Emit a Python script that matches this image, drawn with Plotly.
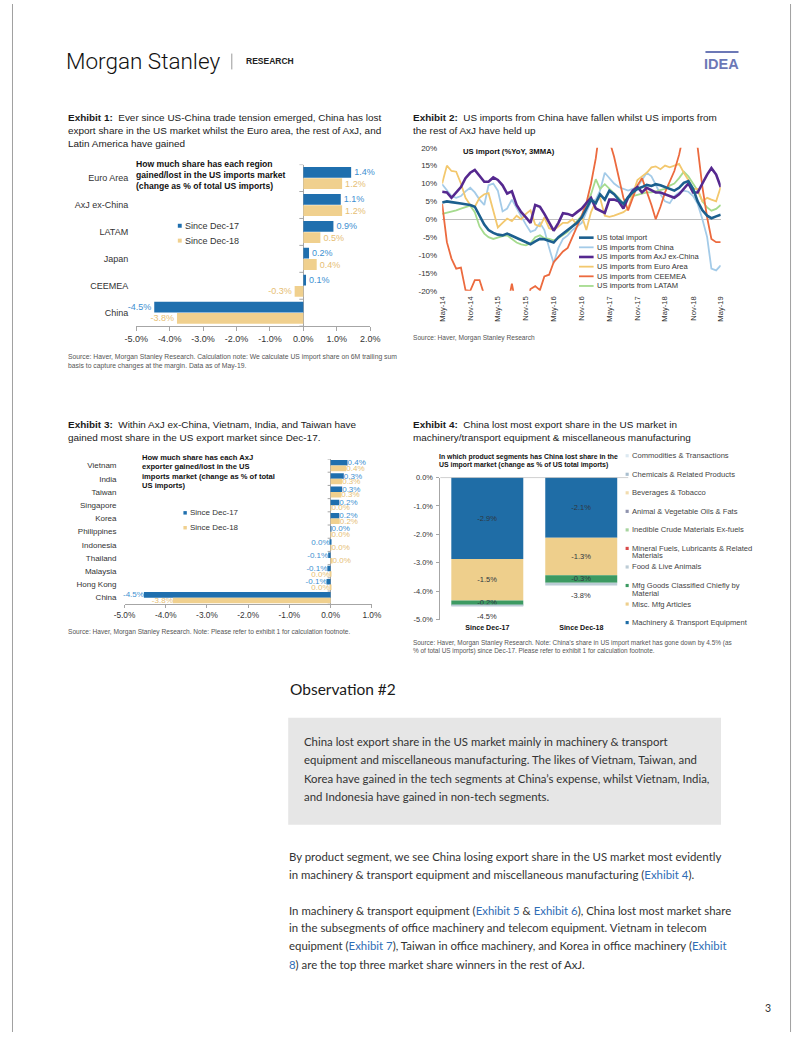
import plotly.graph_objects as go
import pandas as pd

W, H = 802, 1037
def X(p): return p / W
def Y(p): return 1 - p / H

ARIAL = "Liberation Sans, Arial, Helvetica, sans-serif"
BODY = "Lato, 'Open Sans', sans-serif"
TXT = "#333333"
AXC = "#A6A6A6"
BLUE = "#1F6FAE"
BLUE_T = "#3D8FD1"
TAN = "#F0D08E"
TAN_T = "#E6BE74"

# ---------------- data ----------------
ex1_regions = ["Euro Area", "AxJ ex-China", "LATAM", "Japan", "CEEMEA", "China"]
ex1_dec17 = [1.43, 1.12, 0.90, 0.17, 0.08, -4.46]
ex1_dec18 = [1.16, 1.16, 0.51, 0.40, -0.26, -3.78]
ex1_ticks = [-5, -4, -3, -2, -1, 0, 1, 2]
ex1_ticktext = ["-5.0%", "-4.0%", "-3.0%", "-2.0%", "-1.0%", "0.0%", "1.0%", "2.0%"]

ex2_total = [4.7, 5.0, 4.8, 4.5, 4.4, 4.2, 4.0, 3.5, 1.0, -1.5, -3.0, -3.8, -4.3, -4.5, -4.0, -4.6,
             -5.3, -6.0, -6.6, -7.0, -6.2, -5.5, -5.6, -6.0, -6.5, -5.0, -4.0, -3.2, -2.2, -1.0, 0.5,
             3.0, 5.5, 4.5, 7.0, 5.5, 8.0, 7.0, 5.5, 4.3, 6.2, 7.5, 8.5, 9.0, 9.6, 9.3, 9.8, 9.5, 9.0,
             8.5, 8.0, 8.8, 10.2, 10.7, 8.5, 5.0, 2.5, 1.0, 0.3, 0.8, 1.3]
ex2_china = [9.8, 8.0, 6.5, 6.0, 6.5, 7.8, 8.8, 7.5, 5.5, 4.0, 9.5, 10.0, 8.0, 2.2, 3.0, 5.5, 3.0,
             1.0, -1.5, -3.5, -3.0, -1.0, -3.0, -8.0, -12.3, -8.0, -5.5, -4.5, -3.0, -2.0, -1.0, 2.0,
             5.0, 5.5, 8.0, 13.0, 11.5, 10.0, 9.0, 8.5, 8.0, 8.5, 9.0, 11.0, 13.0, 12.0, 9.5, 7.0,
             5.0, 4.5, 6.5, 7.5, 8.0, 7.7, 6.5, 4.3, 0.0, -5.0, -13.8, -14.3, -12.9]
ex2_axj = [7.7, 7.5, 6.0, 7.5, 9.0, 11.5, 13.0, 13.8, 12.0, 10.5, 10.5, 11.7, 11.0, 9.5, 7.2, 7.8,
           4.0, 2.0, 0.5, -1.0, 4.0, 3.5, 1.5, -1.0, -3.2, -1.0, 1.7, 1.5, 1.0, 2.0, 3.0, 4.5, 6.0,
           3.0, 2.5, 1.8, 5.5, 5.5, 5.0, 3.0, 6.0, 8.0, 9.0, 7.5, 8.8, 8.0, 7.5, 7.5, 7.0, 6.3, 6.0,
           7.0, 8.5, 10.0, 7.5, 7.5, 10.0, 12.5, 14.3, 12.5, 9.0]
ex2_euro = [10.0, 15.0, 13.5, 13.3, 10.0, 6.0, 4.0, 3.5, 6.0, 7.0, 7.3, 2.0, -2.3, -1.0, 0.2, -0.5,
            1.0, 0.0, 1.5, 2.5, -1.5, -2.0, 0.5, -2.5, -3.0, -2.0, -1.0, -1.0, 0.0, -1.5, 1.0, -3.0,
            2.0, 5.0, 6.0, 1.0, 0.7, 1.0, 1.5, 2.0, 3.0, 7.0, 11.0, 12.0, 13.0, 14.5, 14.8, 14.0,
            15.0, 14.5, 15.0, 15.5, 13.0, 11.0, 8.5, 8.5, 5.0, 6.0, 5.5, 5.0, 9.0]
ex2_ceemea = [4.3, -6.4, -11.0, -13.8, -13.5, -19.8, -20.0, -17.0, -17.0, -21.0, -25.0, -25.0,
              -25.0, -25.0, -25.0, -18.0, -25.0, -25.0, -25.0, -19.5, -18.7, -19.8, -16.0, -15.5,
              -12.0, -10.5, -9.0, -8.0, -5.0, -2.0, 1.0, 4.5, 10.0, 17.0, 26.0, 30.0, 22.0, 17.5,
              12.0, 6.0, 2.5, 6.0, 9.5, 11.5, 8.0, 4.0, 0.0, 3.5, 7.5, 10.5, 13.5, 18.0, 25.0, 30.0,
              27.0, 20.0, 9.0, 0.5, -5.5, -6.4, -6.4]
ex2_latam = [1.5, 1.8, 2.0, 2.5, 3.0, 3.5, 3.8, 2.0, -2.0, -4.0, -5.0, -5.5, -5.0, -4.7, -4.5, -5.5,
             -6.5, -7.0, -7.3, -6.7, -5.0, -4.5, -5.3, -5.5, -5.9, -5.3, -4.5, -3.5, -2.0, -0.5, 1.0,
             4.0, 7.0, 11.2, 8.5, 9.8, 8.5, 7.2, 6.0, 4.3, 6.0, 6.5, 6.8, 7.2, 7.5, 7.5, 7.8, 8.0,
             8.5, 9.4, 10.0, 11.5, 13.3, 12.0, 9.8, 8.0, 5.0, 3.3, 2.4, 2.9, 4.0]
ex2_names = ["US total import", "US imports from China", "US imports from AxJ ex-China",
             "US imports from Euro Area", "US imports from CEEMEA", "US imports from LATAM"]
ex2_months = pd.date_range("2014-05-01", "2019-05-01", freq="MS")
ex2_yticks = [20, 15, 10, 5, 0, -5, -10, -15, -20]
ex2_yticktext = ["20%", "15%", "10%", "5%", "0%", "-5%", "-10%", "-15%", "-20%"]

ex3_countries = ["Vietnam", "India", "Taiwan", "Singapore", "Korea", "Philippines", "Indonesia",
                 "Thailand", "Malaysia", "Hong Kong", "China"]
ex3_dec17 = [0.41, 0.32, 0.28, 0.21, 0.21, 0.01, -0.01, -0.06, -0.08, -0.10, -4.53]
ex3_dec18 = [0.38, 0.28, 0.26, 0.02, 0.22, 0.01, 0.01, 0.03, -0.01, -0.01, -3.83]
ex3_ticks = [-5, -4, -3, -2, -1, 0, 1]
ex3_ticktext = ["-5.0%", "-4.0%", "-3.0%", "-2.0%", "-1.0%", "0.0%", "1.0%"]

ex4_periods = ["Since Dec-17", "Since Dec-18"]
ex4_segments = ["Machinery & Transport Equipment", "Misc. Mfg Articles",
                "Mfg Goods Classified Chiefly by Material", "Food & Live Animals",
                "Mineral Fuels, Lubricants & Related Materials", "Inedible Crude Materials Ex-fuels",
                "Animal & Vegetable Oils & Fats", "Beverages & Tobacco",
                "Chemicals & Related Products", "Commodities & Transactions"]
ex4_dec17 = [-2.87, -1.46, -0.17, -0.04, 0.0, 0.0, 0.0, 0.0, 0.0, 0.0]
ex4_dec18 = [-2.12, -1.32, -0.26, -0.10, 0.0, 0.0, 0.0, 0.0, 0.0, 0.0]
ex4_labelled = ["Machinery & Transport Equipment", "Misc. Mfg Articles",
                "Mfg Goods Classified Chiefly by Material"]
ex4_yticks = [0, -1, -2, -3, -4, -5]
ex4_yticktext = ["0.0%", "-1.0%", "-2.0%", "-3.0%", "-4.0%", "-5.0%"]

# ---------------- styles ----------------
ex2_colors = ["#1C5F8E", "#A4CBE8", "#55288F", "#F3C86E", "#EC6A3E", "#A5DB8E"]
ex2_widths = [2.6, 1.8, 2.6, 1.8, 1.8, 1.8]
ex4_colors = {"Machinery & Transport Equipment": "#1F6DA6", "Misc. Mfg Articles": "#EECF8C",
              "Mfg Goods Classified Chiefly by Material": "#3C9A62", "Food & Live Animals": "#BCCCD6",
              "Mineral Fuels, Lubricants & Related Materials": "#D94A4A",
              "Inedible Crude Materials Ex-fuels": "#A8D5A0", "Animal & Vegetable Oils & Fats": "#8F93AE",
              "Beverages & Tobacco": "#F2DCAE", "Chemicals & Related Products": "#A9BFCF",
              "Commodities & Transactions": "#DCE9F1"}

def fmt(v):
    return f"{v:.1f}%".replace("-0.0%", "0.0%")

ann = []
shp = []

def label(x, y, s, size, color=TXT, family=ARIAL, xanchor="left", weight=None):
    f = dict(family=family, size=size, color=color)
    if weight:
        f["weight"] = weight
    ann.append(dict(x=X(x), y=Y(y), xref="paper", yref="paper", text=s, showarrow=False,
                    xanchor=xanchor, yanchor="middle", align="left", font=f, borderpad=0))

def hline_px(x0, x1, y, color, width=1):
    shp.append(dict(type="line", xref="paper", yref="paper", x0=X(x0), x1=X(x1), y0=Y(y), y1=Y(y),
                    line=dict(color=color, width=width)))

def square(cx, cy, size, color):
    shp.append(dict(type="rect", xref="paper", yref="paper", x0=X(cx - size / 2), x1=X(cx + size / 2),
                    y0=Y(cy + size / 2), y1=Y(cy - size / 2), fillcolor=color, line=dict(width=0)))

fig = go.Figure()

# ---------------- Exhibit 1 ----------------
for vals, col, tcol, off, nm in [(ex1_dec17, BLUE, BLUE_T, -0.41, "Since Dec-17"),
                                 (ex1_dec18, TAN, TAN_T, 0.01, "Since Dec-18")]:
    fig.add_trace(go.Bar(y=ex1_regions, x=vals, orientation="h", xaxis="x", yaxis="y",
                         width=0.40, offset=off, marker=dict(color=col, line=dict(width=0)),
                         text=[fmt(v) for v in vals], textposition="outside",
                         textfont=dict(family=ARIAL, size=9, color=tcol), constraintext="none",
                         cliponaxis=False, name=nm, hoverinfo="skip"))
for b in range(len(ex1_regions) + 1):
    shp.append(dict(type="line", xref="x", yref="y", xsizemode="pixel", xanchor=0, x0=-4, x1=0,
                    y0=b - 0.5, y1=b - 0.5, line=dict(color=AXC, width=1)))

# ---------------- Exhibit 2 ----------------
series = [ex2_total, ex2_china, ex2_axj, ex2_euro, ex2_ceemea, ex2_latam]
for i in [1, 5, 3, 4, 2, 0]:
    fig.add_trace(go.Scatter(x=ex2_months, y=series[i], mode="lines", xaxis="x2", yaxis="y2",
                             line=dict(color=ex2_colors[i], width=ex2_widths[i]), name=ex2_names[i],
                             hoverinfo="skip"))

# ---------------- Exhibit 3 ----------------
for vals, col, tcol, off, nm in [(ex3_dec17, BLUE, BLUE_T, -0.42, "Since Dec-17"),
                                 (ex3_dec18, TAN, TAN_T, 0.0, "Since Dec-18")]:
    fig.add_trace(go.Bar(y=ex3_countries, x=vals, orientation="h", xaxis="x3", yaxis="y3",
                         width=0.42, offset=off, marker=dict(color=col, line=dict(width=0)),
                         text=[fmt(v) for v in vals], textposition="outside",
                         textfont=dict(family=ARIAL, size=8, color=tcol), constraintext="none",
                         cliponaxis=False, name=nm, hoverinfo="skip"))
for b in range(len(ex3_countries) + 1):
    shp.append(dict(type="line", xref="x3", yref="y3", xsizemode="pixel", xanchor=0, x0=-3, x1=0,
                    y0=b - 0.5, y1=b - 0.5, line=dict(color=AXC, width=1)))

# ---------------- Exhibit 4 ----------------
base17, base18 = 0.0, 0.0
for seg, v17, v18 in zip(ex4_segments, ex4_dec17, ex4_dec18):
    txt = [fmt(v17), fmt(v18)] if seg in ex4_labelled else ["", ""]
    fig.add_trace(go.Bar(x=ex4_periods, y=[v17, v18], base=[base17, base18], xaxis="x4", yaxis="y4",
                         width=0.766, marker=dict(color=ex4_colors[seg], line=dict(width=0)),
                         text=txt, textposition="inside", insidetextanchor="middle",
                         insidetextfont=dict(family=ARIAL, size=7.5, color="#2E3740"),
                         constraintext="none", name=seg, hoverinfo="skip"))
    base17 += v17
    base18 += v18
ex4_totals = [sum(ex4_dec17), sum(ex4_dec18)]
for per, tot in zip(ex4_periods, ex4_totals):
    ann.append(dict(x=per, y=tot, xref="x4", yref="y4", text=fmt(tot), showarrow=False,
                    xanchor="center", yanchor="top", yshift=-3,
                    font=dict(family=ARIAL, size=7.5, color=TXT)))
shp.append(dict(type="line", xref="x4 domain", yref="y4", x0=0, x1=1, y0=0, y1=0,
                line=dict(color=AXC, width=1)))

# ---------------- text: header ----------------
label(55, 58, "Morgan Stanley", 22.5, color="#111111", family="Roboto, sans-serif", weight=300)
shp.append(dict(type="line", xref="paper", yref="paper", x0=X(226), x1=X(226), y0=Y(50), y1=Y(66),
                line=dict(color="#999999", width=1)))
label(240, 58, "RESEARCH", 8.5, color="#222222", weight="bold")
label(730, 61, "IDEA", 14.5, color="#6C78B6", weight="bold", xanchor="center")
hline_px(713, 747, 48.5, "#6C78B6", 2)
for xe in [0.5, 800.5]:
    shp.append(dict(type="line", xref="paper", yref="paper", x0=X(xe), x1=X(xe), y0=0, y1=1,
                    line=dict(color="#A0A0A0", width=1)))

# ---------------- text: exhibit 1 ----------------
TS = 9.95
SRC = 6.6
label(57, 114, "<b>Exhibit 1:</b>  Ever since US-China trade tension emerged, China has lost", TS, "#1a1a1a")
label(57, 127.3, "export share in the US market whilst the Euro area, the rest of AxJ, and", TS, "#1a1a1a")
label(57, 140.6, "Latin America have gained", TS, "#1a1a1a")
for i, s in enumerate(["How much share has each region", "gained/lost in the US imports market",
                       "(change as % of total US imports)"]):
    label(126.5, 161 + i * 11.5, s, 8.6, "#111111", weight="bold")
square(172.5, 223.7, 4, BLUE)
label(177, 223.7, "Since Dec-17", 9, TXT)
square(172.5, 238.7, 4, TAN)
label(177, 238.7, "Since Dec-18", 9, TXT)
label(57, 356, "Source: Haver, Morgan Stanley Research. Calculation note: We calculate US import share on 6M trailing sum", 6.8, "#555555")
label(57, 365, "basis to capture changes at the margin. Data as of May-19.", 6.8, "#555555")

# ---------------- text: exhibit 2 ----------------
label(411, 114, "<b>Exhibit 2:</b>  US imports from China have fallen whilst US imports from", TS, "#1a1a1a")
label(411, 127.3, "the rest of AxJ have held up", TS, "#1a1a1a")
label(463, 148.3, "US import (%YoY, 3MMA)", 7.7, "#111111", weight="bold")
for i, nm in enumerate(ex2_names):
    yy = 235.7 + i * 9.75
    hline_px(583, 598, yy, ex2_colors[i], ex2_widths[i])
    label(600, yy, nm, 7.6, TXT)
label(411, 337.3, "Source: Haver, Morgan Stanley Research", SRC, "#555555")

# ---------------- text: exhibit 3 ----------------
label(57, 424.3, "<b>Exhibit 3:</b>  Within AxJ ex-China, Vietnam, India, and Taiwan have", TS, "#1a1a1a")
label(57, 437.7, "gained most share in the US export market since Dec-17.", TS, "#1a1a1a")
for i, s in enumerate(["How much share has each AxJ", "exporter gained/lost in the US",
                       "imports market (change as % of total", "US imports)"]):
    label(132.5, 457.5 + i * 9.5, s, 7.6, "#111111", weight="bold")
square(178, 513.3, 3.5, BLUE)
label(181.7, 513.3, "Since Dec-17", 8, TXT)
square(178, 528.3, 3.5, TAN)
label(181.7, 528.3, "Since Dec-18", 8, TXT)
label(57, 633.3, "Source: Haver, Morgan Stanley Research. Note: Please refer to exhibit 1 for calculation footnote.", SRC, "#555555")

# ---------------- text: exhibit 4 ----------------
label(411, 424.3, "<b>Exhibit 4:</b>  China lost most export share in the US market in", TS, "#1a1a1a")
label(411, 437.7, "machinery/transport equipment & miscellaneous manufacturing", TS, "#1a1a1a")
label(438, 456.7, "In which product segments has China lost share in the", 6.9, "#111111", weight="bold")
label(438, 465.3, "US import market (change as % of US total imports)", 6.9, "#111111", weight="bold")
wrap = {"Mineral Fuels, Lubricants & Related Materials": ["Mineral Fuels, Lubricants & Related", "Materials"],
        "Mfg Goods Classified Chiefly by Material": ["Mfg Goods Classified Chiefly by", "Material"]}
for i, seg in enumerate(reversed(ex4_segments)):
    yy = 455.7 + i * 18.7
    square(632.5, yy, 3.2, ex4_colors[seg])
    for j, ln in enumerate(wrap.get(seg, [seg])):
        label(636, yy + j * 7.6, ln, 7.6, "#444444")
label(411, 644.3, "Source: Haver, Morgan Stanley Research. Note: China’s share in US import market has gone down by 4.5% (as", 6.45, "#555555")
label(411, 652.7, "% of total US imports) since Dec-17. Please refer to exhibit 1 for calculation footnote.", 6.45, "#555555")

# ---------------- body text ----------------
BS = 11.4
label(285, 691, "Observation #2", 15.5, "#1a1a1a", family=BODY)
shp.append(dict(type="rect", xref="paper", yref="paper", x0=X(284), x1=X(729), y0=Y(828), y1=Y(720),
                fillcolor="#E6E6E6", line=dict(width=0), layer="below"))
box_lines = ["China lost export share in the US market mainly in machinery & transport",
             "equipment and miscellaneous manufacturing. The likes of Vietnam, Taiwan, and",
             "Korea have gained in the tech segments at China’s expense, whilst Vietnam, India,",
             "and Indonesia have gained in non-tech segments."]
for i, s in enumerate(box_lines):
    label(299, 744 + i * 18.5, s, BS, "#333333", family=BODY)
LNK = "#2F6DB5"
def lk(s):
    return f"<span style='color:{LNK}'>{s}</span>"
para = [(860, "By product segment, we see China losing export share in the US market most evidently"),
        (878.5, f"in machinery & transport equipment and miscellaneous manufacturing ({lk('Exhibit 4')})."),
        (914, f"In machinery & transport equipment ({lk('Exhibit 5')} & {lk('Exhibit 6')}), China lost most market share"),
        (932, "in the subsegments of office machinery and telecom equipment. Vietnam in telecom"),
        (950, f"equipment ({lk('Exhibit 7')}), Taiwan in office machinery, and Korea in office machinery ({lk('Exhibit')}"),
        (968.5, f"{lk('8')}) are the top three market share winners in the rest of AxJ.")]
for yy, s in para:
    label(284, yy, s, BS, "#333333", family=BODY)
label(773, 1013, "3", 10.5, "#333333", family=BODY)

# ---------------- layout ----------------
def tf(size):
    return dict(family=ARIAL, size=size, color=TXT)

fig.update_layout(
    width=W, height=H, autosize=False, margin=dict(l=0, r=0, t=0, b=0),
    paper_bgcolor="white", plot_bgcolor="rgba(0,0,0,0)", showlegend=False, barmode="overlay",
    xaxis=dict(domain=[X(127.7), X(368.3)], anchor="y", range=[-5, 2], tickvals=ex1_ticks,
               ticktext=ex1_ticktext, showline=True, linecolor=AXC, linewidth=1, ticks="outside",
               ticklen=4, tickcolor=AXC, zeroline=True, zerolinecolor=AXC, zerolinewidth=1,
               showgrid=False, tickfont=tf(9), fixedrange=True),
    yaxis=dict(domain=[Y(325), Y(162)], anchor="x", type="category", categoryorder="array",
               categoryarray=ex1_regions, range=[len(ex1_regions) - 0.5, -0.5], showline=False,
               ticks="", showgrid=False, zeroline=False, tickfont=tf(9), ticklabelstandoff=7,
               fixedrange=True),
    xaxis2=dict(domain=[X(442.3), X(728.7)], anchor="y2", type="date",
                range=[ex2_months[0], ex2_months[-1]], tickvals=list(ex2_months[::6]),
                ticktext=[d.strftime("%b-%y") for d in ex2_months[::6]], tickangle=-90, ticks="",
                showline=False, showgrid=False, zeroline=False, tickfont=tf(7.6), ticklabelstandoff=3,
                fixedrange=True),
    yaxis2=dict(domain=[Y(289.3), Y(145)], anchor="x2", range=[-20, 20], tickvals=ex2_yticks,
                ticktext=ex2_yticktext, ticks="", showline=False, showgrid=False, zeroline=True,
                zerolinecolor="#BFBFBF", zerolinewidth=1, tickfont=tf(8), ticklabelstandoff=4,
                fixedrange=True),
    xaxis3=dict(domain=[X(115.7), X(370)], anchor="y3", range=[-5, 1], tickvals=ex3_ticks,
                ticktext=ex3_ticktext, showline=True, linecolor=AXC, linewidth=1, ticks="outside",
                ticklen=3, tickcolor=AXC, zeroline=True, zerolinecolor=AXC, zerolinewidth=1,
                showgrid=False, tickfont=tf(8.3), fixedrange=True),
    yaxis3=dict(domain=[Y(605.5), Y(459)], anchor="x3", type="category", categoryorder="array",
                categoryarray=ex3_countries, range=[len(ex3_countries) - 0.5, -0.5], showline=False,
                ticks="", showgrid=False, zeroline=False, tickfont=tf(8), ticklabelstandoff=7,
                fixedrange=True),
    xaxis4=dict(domain=[X(440.4), X(633.6)], anchor="y4", type="category", range=[-0.5, 1.5],
                showline=False, ticks="", showgrid=False, zeroline=False,
                tickfont=dict(family=ARIAL, size=7.1, color="#111111", weight="bold"),
                ticklabelstandoff=2, fixedrange=True),
    yaxis4=dict(domain=[Y(621), Y(477.7)], anchor="x4", range=[-5, 0], tickvals=ex4_yticks,
                ticktext=ex4_yticktext, showline=True, linecolor=AXC, linewidth=1, ticks="outside",
                ticklen=3, tickcolor=AXC, showgrid=False, zeroline=False, tickfont=tf(7.4),
                ticklabelstandoff=2, fixedrange=True),
    annotations=ann, shapes=shp,
)

fig.write_html("out.html")
